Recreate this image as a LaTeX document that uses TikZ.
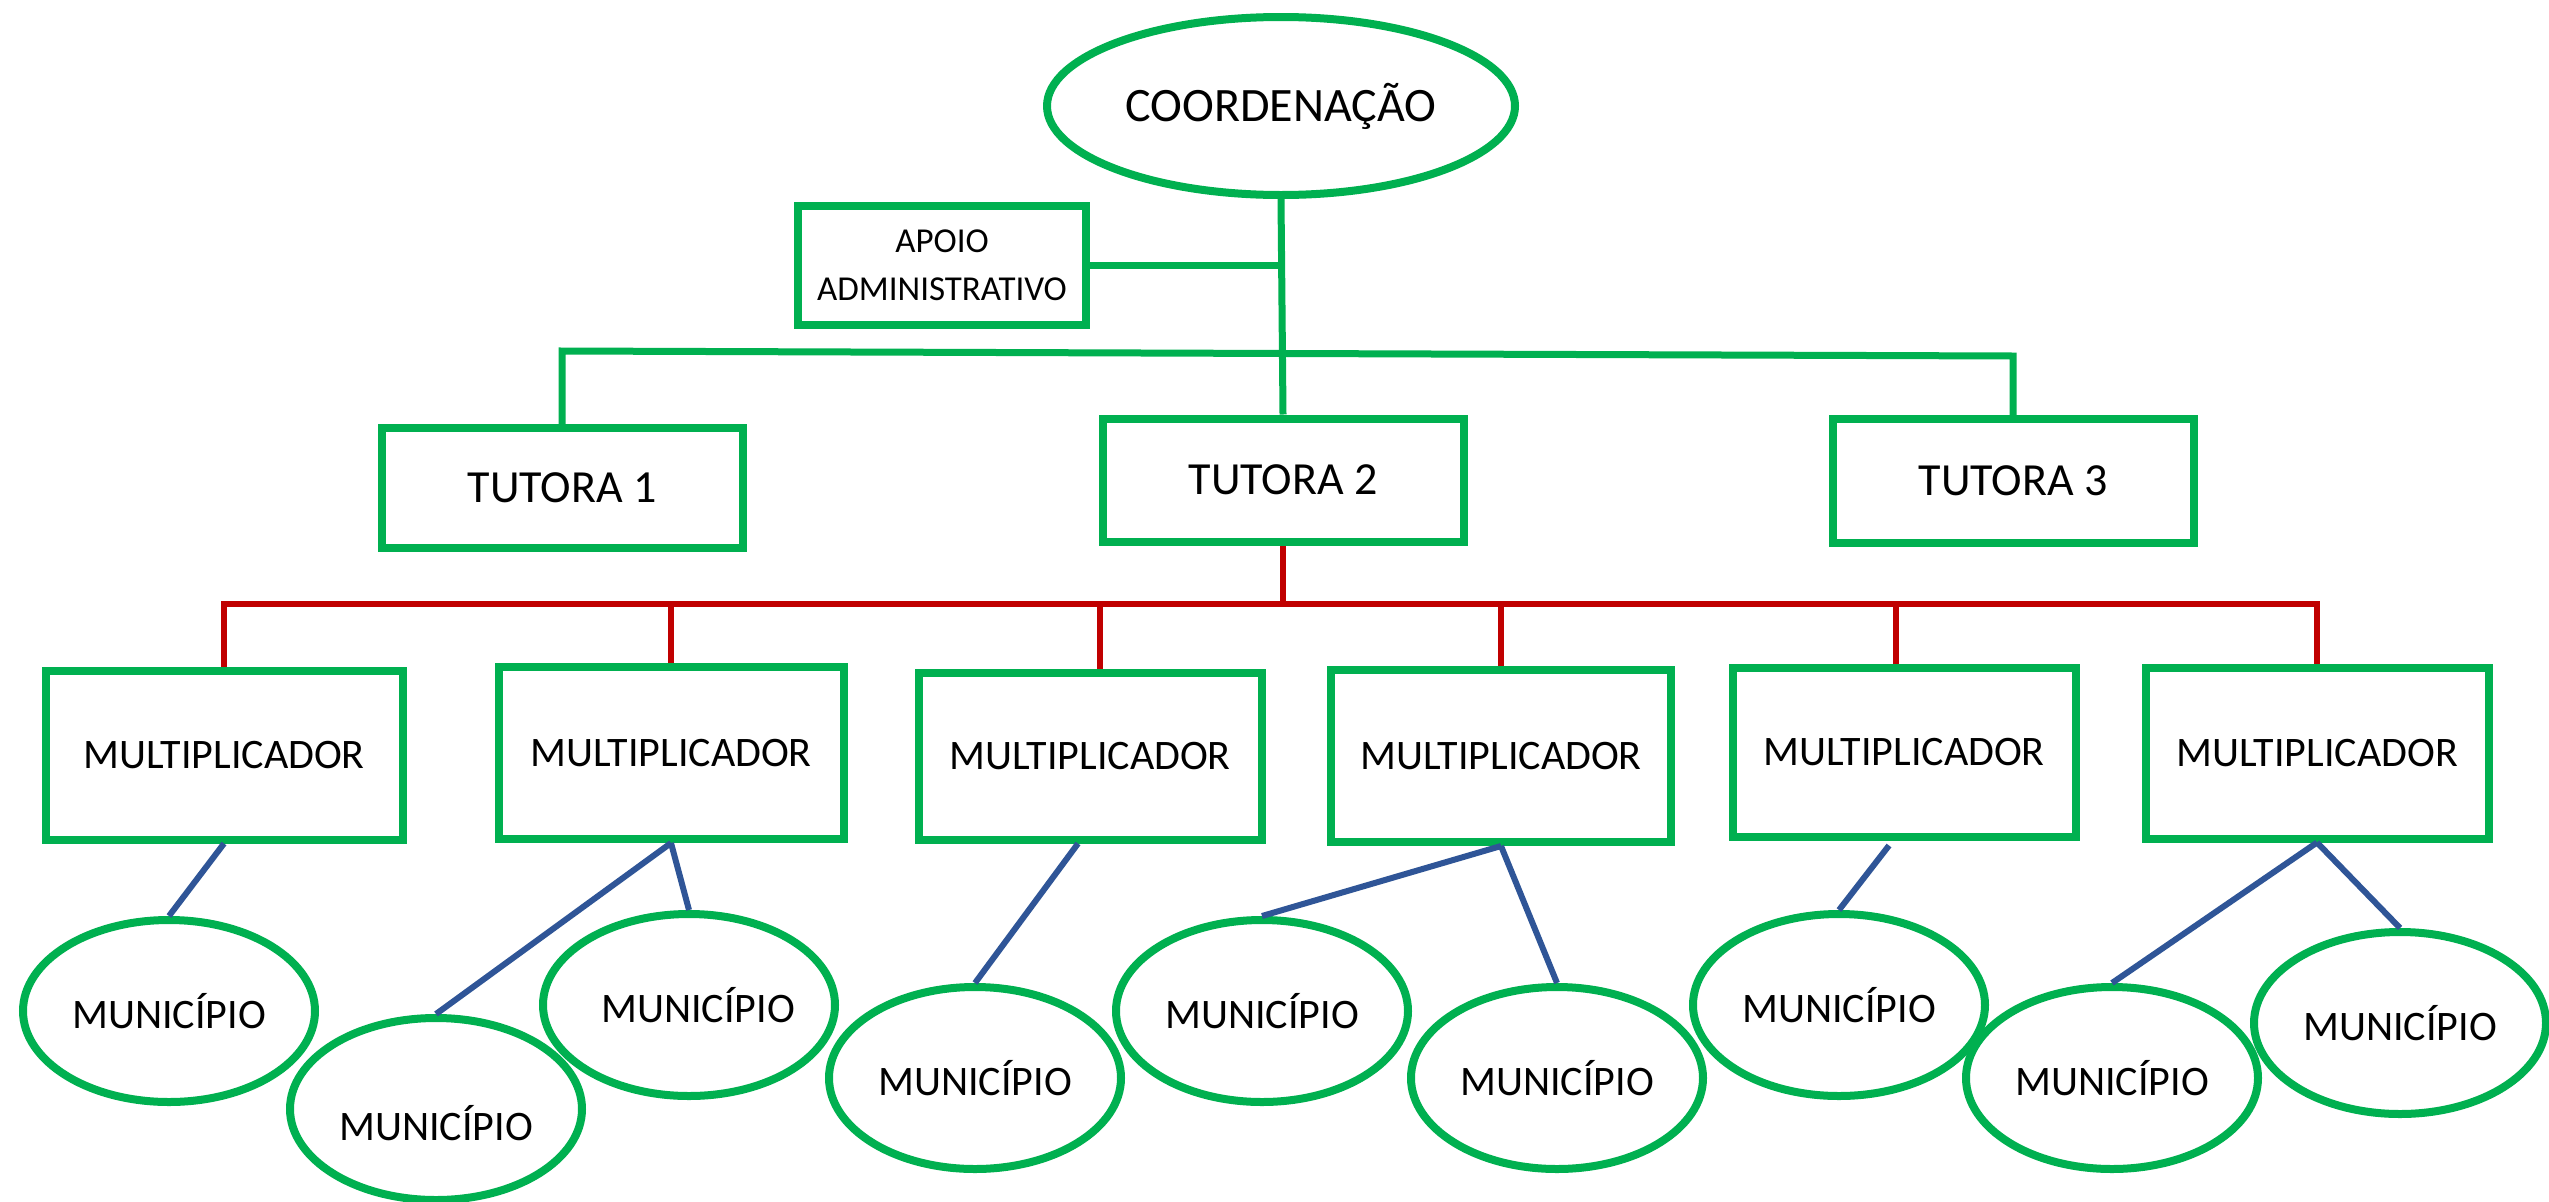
\documentclass[tikz,border=0pt]{standalone}
\usepackage{fontspec}
\setmainfont{Carlito}
\usetikzlibrary{shapes.geometric,calc}
\definecolor{gr}{HTML}{00B050}
\definecolor{rd}{HTML}{C00000}
\definecolor{bl}{HTML}{2F5597}
\begin{document}
\begin{tikzpicture}[x=1pt,y=-1pt,
  gbox/.style={draw=gr,line width=8pt,rectangle,inner sep=0pt,font=\fontsize{42}{50}\selectfont},
  gell/.style={draw=gr,line width=8pt,ellipse,inner sep=0pt,font=\fontsize{42}{50}\selectfont},
  gline/.style={draw=gr,line width=7pt},
  rline/.style={draw=rd,line width=6pt},
  bline/.style={draw=bl,line width=6pt}]
\useasboundingbox[fill=white] (0,0) rectangle (2549,1202);
% top
\node[gell,minimum width=468pt,minimum height=178pt,font=\fontsize{48}{56}\selectfont] (coord) at (1281,106) {COORDENAÇÃO};
\node[gbox,minimum width=288pt,minimum height=119pt,align=center,font=\fontsize{35}{48}\selectfont] (apoio) at (942,265) {APOIO\\ADMINISTRATIVO};
\node[gbox,minimum width=361pt,minimum height=120pt,font=\fontsize{46}{54}\selectfont] (t1) at (562,488) {TUTORA 1};
\node[gbox,minimum width=361pt,minimum height=123pt,font=\fontsize{46}{54}\selectfont] (t2) at (1283,480) {TUTORA 2};
\node[gbox,minimum width=361pt,minimum height=124pt,font=\fontsize{46}{54}\selectfont] (t3) at (2013,481) {TUTORA 3};
% multiplicadores
\node[gbox,minimum width=357pt,minimum height=169pt] (m1) at (224,755) {MULTIPLICADOR};
\node[gbox,minimum width=345pt,minimum height=172pt] (m2) at (671,753) {MULTIPLICADOR};
\node[gbox,minimum width=343pt,minimum height=167pt] (m3) at (1090,756) {MULTIPLICADOR};
\node[gbox,minimum width=340pt,minimum height=172pt] (m4) at (1501,756) {MULTIPLICADOR};
\node[gbox,minimum width=343pt,minimum height=169pt] (m5) at (1904,752) {MULTIPLICADOR};
\node[gbox,minimum width=343pt,minimum height=171pt] (m6) at (2317,753) {MULTIPLICADOR};
% municipios
\tikzset{mun/.style={gell,minimum width=292pt,minimum height=182pt}}
\node[mun] (e1) at (169,1011) {MUNICÍPIO};
\node[mun,label={[font=\fontsize{42}{50}\selectfont,yshift=-14pt]center:MUNICÍPIO}] (e2) at (436,1109) {};
\node[mun,label={[font=\fontsize{42}{50}\selectfont,xshift=9pt]center:MUNICÍPIO}] (e3) at (689,1005) {};
\node[mun] (e4) at (975,1078) {MUNICÍPIO};
\node[mun] (e5) at (1262,1011) {MUNICÍPIO};
\node[mun] (e6) at (1557,1078) {MUNICÍPIO};
\node[mun] (e7) at (1839,1005) {MUNICÍPIO};
\node[mun] (e8) at (2112,1078) {MUNICÍPIO};
\node[mun] (e9) at (2400,1023) {MUNICÍPIO};
% green connectors
\draw[gline] (coord.south) -- (t2.north);
\draw[gline] (apoio.east) -- (apoio.east -| coord.south);
\coordinate (gbL) at (562,351);
\coordinate (gbR) at (2013,356);
\draw[gline] (t1.north) -- (gbL) -- (gbR) -- (t3.north);
% red connectors
\coordinate (rbL) at (224,604);
\coordinate (rbR) at (2317,604);
\coordinate (m3top) at ([xshift=10pt]m3.north);
\coordinate (m5top) at ([xshift=-8pt]m5.north);
\draw[rline] (t2.south) -- (t2.south |- rbL);
\draw[rline] (m1.north) -- (rbL) -- (rbR) -- (m6.north);
\draw[rline] (m2.north) -- (m2.north |- rbL);
\draw[rline] (m3top) -- (m3top |- rbL);
\draw[rline] (m4.north) -- (m4.north |- rbL);
\draw[rline] (m5top) -- (m5top |- rbL);
% blue connectors
\coordinate (m3bot) at ([xshift=-12pt]m3.south);
\coordinate (m5bot) at ([xshift=-15pt,yshift=-5pt]m5.south);
\draw[bline] (m1.south) -- (e1.north);
\draw[bline] (m2.south) -- (e2.north);
\draw[bline] (m2.south) -- (e3.north);
\draw[bline] (m3bot) -- (e4.north);
\draw[bline] (m4.south) -- (e5.north);
\draw[bline] (m4.south) -- (e6.north);
\draw[bline] (m5bot) -- (e7.north);
\draw[bline] (m6.south) -- (e8.north);
\draw[bline] (m6.south) -- (e9.north);
\end{tikzpicture}
\end{document}
